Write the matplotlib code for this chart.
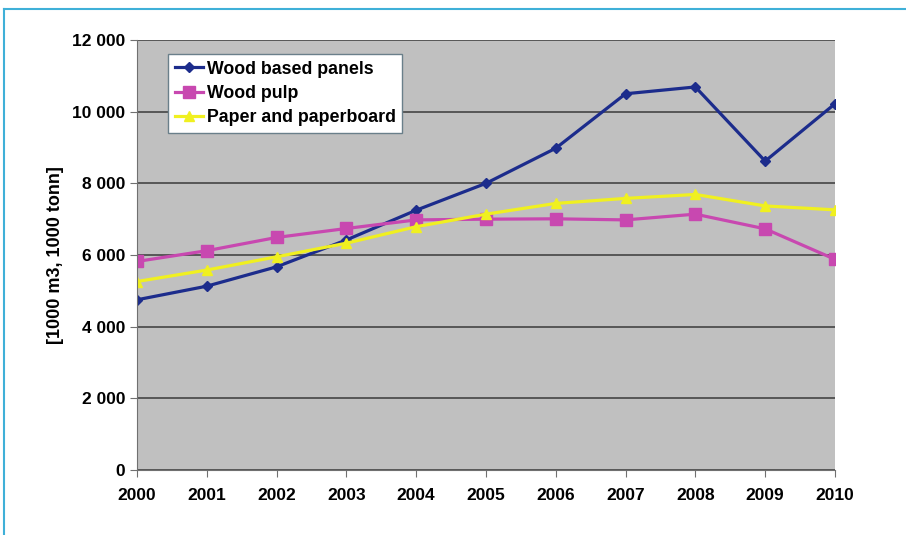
import matplotlib.pyplot as plt
from matplotlib.lines import Line2D
from matplotlib.ticker import FuncFormatter

years = [2000, 2001, 2002, 2003, 2004, 2005, 2006, 2007, 2008, 2009, 2010]
panels = [4750, 5130, 5670, 6420, 7250, 8000, 8980, 10500, 10690, 8620, 10220]
pulp = [5820, 6120, 6490, 6740, 6980, 7000, 7010, 6980, 7140, 6730, 5880]
paper = [5260, 5580, 5950, 6330, 6790, 7140, 7440, 7580, 7690, 7370, 7260]
y_ticks = [0, 2000, 4000, 6000, 8000, 10000, 12000]

font = "Liberation Sans"

fig = plt.figure(figsize=(9.06, 5.35), dpi=100)
ax = fig.add_axes([0.1512, 0.1215, 0.7704, 0.8037])
ax.set_facecolor("#c0c0c0")

ax.plot(years, panels, color="#1c2c8c", lw=2.3, marker="D", ms=5.5, label="Wood based panels")
ax.plot(years, pulp, color="#c848b0", lw=2.3, marker="s", ms=9, label="Wood pulp")
ax.plot(years, paper, color="#f0f020", lw=2.3, marker="^", ms=7.5, label="Paper and paperboard")

ax.set_xlim(2000, 2010)
ax.set_ylim(0, 12000)
ax.set_xticks(years)
ax.set_yticks(y_ticks)
ax.yaxis.set_major_formatter(FuncFormatter(lambda v, p: f"{int(v):,}".replace(",", " ")))
ax.grid(axis="y", color="#3a3a3a", lw=1.1)
ax.set_axisbelow(True)
for side in ["top", "right"]:
    ax.spines[side].set_visible(False)
for side in ["left", "bottom"]:
    ax.spines[side].set_color("#707070")
ax.tick_params(axis="both", colors="#707070", length=5, labelcolor="black")
for lbl in ax.get_xticklabels() + ax.get_yticklabels():
    lbl.set_fontfamily(font)
    lbl.set_fontweight("bold")
    lbl.set_fontsize(12.5)
ax.tick_params(axis="x", pad=8)

ax.set_ylabel("[1000 m3, 1000 tonn]", fontfamily=font, fontweight="bold", fontsize=13, labelpad=6)

leg = ax.legend(loc="upper left", bbox_to_anchor=(0.04, 0.975), fancybox=False, framealpha=1,
                edgecolor="#6a7f8a", prop={"family": font, "weight": "bold", "size": 12.8},
                handlelength=1.6, handletextpad=0.2, borderpad=0.35, labelspacing=0.42,
                borderaxespad=0.2)
leg.get_frame().set_linewidth(1)

# thin border around the figure panel
fig.add_artist(Line2D([0.0045, 1.0], [0.983, 0.983], color="#3fb0d8", lw=1.5, transform=fig.transFigure))
fig.add_artist(Line2D([0.0045, 0.0045], [0.0, 0.983], color="#3fb0d8", lw=1.5, transform=fig.transFigure))

fig.savefig("out.png", dpi=100)
